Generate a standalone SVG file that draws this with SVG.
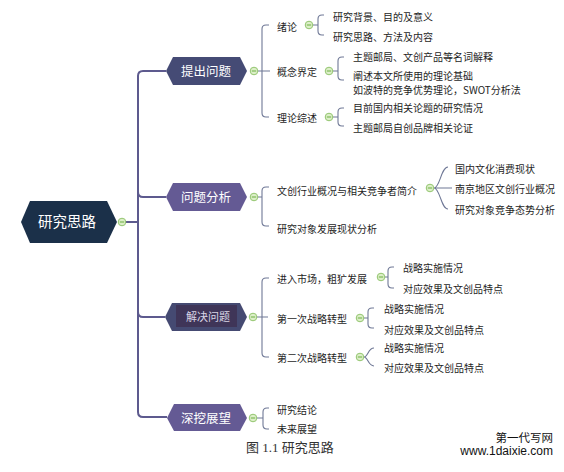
<svg xmlns="http://www.w3.org/2000/svg" width="564" height="472" viewBox="0 0 564 472">
<style>
.t{font-family:"Noto Sans CJK SC","Liberation Sans",sans-serif;font-size:10px;fill:#1e1e1e}
.nt{font-family:"Noto Sans CJK SC","Liberation Sans",sans-serif;fill:#ffffff;text-anchor:middle}
.trunk{fill:none;stroke:#5d5a8e;stroke-width:2}
.br{fill:none;stroke:#6f7896;stroke-width:1.1}
</style>
<defs>
<g id="tog"><circle cx="0" cy="0" r="3.8" fill="#dcefc8" stroke="#93c56f" stroke-width="1"/><line x1="-2.2" y1="0" x2="2.2" y2="0" stroke="#7db758" stroke-width="1.2"/></g>
</defs>
<rect width="564" height="472" fill="#ffffff"/>
<g id="connectors">
<path class="trunk" d="M125 222 H138"/>
<path class="trunk" d="M166 71 H143 Q138 71 138 76 V412 Q138 417 143 417 H167"/>
<path class="trunk" d="M138 192 Q138 197 143 197 H166"/>
<path class="trunk" d="M138 312 Q138 317 143 317 H165"/>
<path class="br" d="M258 71 H270 M269 25 H266 Q262 25 262 29 V113 Q262 117 266 117 H269"/>
<path class="br" d="M313 25 H318 M324 15 H322 Q318 15 318 19 V31 Q318 35 322 35 H324"/>
<path class="br" d="M333 71 H338 M344 57 H342 Q338 57 338 61 V76 Q338 80 342 80 H344"/>
<path class="br" d="M333 117 H338 M344 108 H342 Q338 108 338 112 V122 Q338 126 342 126 H344"/>
<path class="br" d="M258 197 H262 M269 187 H266 Q262 187 262 191 V222 Q262 226 266 226 H269"/>
<path class="br" d="M434 188 C440 188 441 167 448 167 M434 188 H452 M434 188 C440 188 441 209 448 209"/>
<path class="br" d="M257 317 H268 M269 278 H266 Q262 278 262 282 V353 Q262 357 266 357 H269"/>
<path class="br" d="M385 277 H388 M394 267 H392 Q388 267 388 271 V284 Q388 288 392 288 H394"/>
<path class="br" d="M364 318 H368 M374 308 H372 Q368 308 368 312 V324 Q368 328 372 328 H374"/>
<path class="br" d="M364 357 C368 357 368 348 374 348 M364 357 C368 357 368 366 374 366"/>
<path class="br" d="M257 418 H263 M269 408 H267 Q263 408 263 412 V425 Q263 429 267 429 H269"/>
</g>
<g id="root">
<polygon points="21,222 30,201 107,201 117,222 107,243 30,243" fill="#1b3049"/>
<text class="nt" x="67" y="227" font-size="14.5">研究思路</text>
<use href="#tog" x="122" y="222"/>
</g>
<g id="n-tichu">
<polygon points="166,71 173,57 240,57 247,71 240,85 173,85" fill="#454b75"/>
<text class="nt" x="206" y="76" font-size="12.5">提出问题</text>
<use href="#tog" x="254" y="71"/>
</g>
<g id="n-fenxi">
<polygon points="166,197 173,183 240,183 247,197 240,211 173,211" fill="#645a94"/>
<text class="nt" x="206" y="202" font-size="12.5">问题分析</text>
<use href="#tog" x="254" y="197"/>
</g>
<g id="n-jiejue">
<polygon points="165,317 172,303 240,303 247,317 240,331 172,331" fill="#454a72"/>
<rect x="176" y="305" width="61" height="22" fill="#3f3558"/>
<text class="nt" x="208" y="321" font-size="11" style="fill:#d8d4e4">解决问题</text>
<use href="#tog" x="253" y="317"/>
</g>
<g id="n-shenwa">
<polygon points="167,418 174,404 240,404 247,418 240,431 174,431" fill="#645a94"/>
<text class="nt" x="206" y="422.5" font-size="12.5">深挖展望</text>
<use href="#tog" x="253" y="418"/>
</g>
<g id="n-xulun">
<text class="t" x="277" y="31">绪论</text>
<use href="#tog" x="309" y="25"/>
</g>
<g id="n-xulun-1"><text class="t" x="333" y="21">研究背景、目的及意义</text></g>
<g id="n-xulun-2"><text class="t" x="333" y="41">研究思路、方法及内容</text></g>
<g id="n-gainian">
<text class="t" x="277" y="76">概念界定</text>
<use href="#tog" x="329" y="71"/>
</g>
<g id="n-gainian-1"><text class="t" x="353" y="61">主题邮局、文创产品等名词解释</text></g>
<g id="n-gainian-2"><text class="t" x="353" y="79.5"><tspan x="353" y="79.5">阐述本文所使用的理论基础</tspan><tspan x="353" y="94">如波特的竞争优势理论，SWOT分析法</tspan></text></g>
<g id="n-lilun">
<text class="t" x="277" y="122">理论综述</text>
<use href="#tog" x="329" y="117"/>
</g>
<g id="n-lilun-1"><text class="t" x="353" y="112">目前国内相关论题的研究情况</text></g>
<g id="n-lilun-2"><text class="t" x="353" y="132">主题邮局自创品牌相关论证</text></g>
<g id="n-wenchuang">
<text class="t" x="277" y="195">文创行业概况与相关竞争者简介</text>
<use href="#tog" x="430" y="188"/>
</g>
<g id="n-wc-1"><text class="t" x="455" y="173">国内文化消费现状</text></g>
<g id="n-wc-2"><text class="t" x="455" y="193">南京地区文创行业概况</text></g>
<g id="n-wc-3"><text class="t" x="455" y="214">研究对象竞争态势分析</text></g>
<g id="n-fazhan"><text class="t" x="277" y="233">研究对象发展现状分析</text></g>
<g id="n-jinru">
<text class="t" x="277" y="283">进入市场，粗犷发展</text>
<use href="#tog" x="381" y="277"/>
</g>
<g id="n-jinru-1"><text class="t" x="403" y="272">战略实施情况</text></g>
<g id="n-jinru-2"><text class="t" x="403" y="293">对应效果及文创品特点</text></g>
<g id="n-diyi">
<text class="t" x="277" y="323">第一次战略转型</text>
<use href="#tog" x="360" y="318"/>
</g>
<g id="n-diyi-1"><text class="t" x="384" y="313">战略实施情况</text></g>
<g id="n-diyi-2"><text class="t" x="384" y="334">对应效果及文创品特点</text></g>
<g id="n-dier">
<text class="t" x="277" y="362">第二次战略转型</text>
<use href="#tog" x="360" y="357"/>
</g>
<g id="n-dier-1"><text class="t" x="384" y="352">战略实施情况</text></g>
<g id="n-dier-2"><text class="t" x="384" y="372">对应效果及文创品特点</text></g>
<g id="n-jielun"><text class="t" x="277" y="414">研究结论</text></g>
<g id="n-zhanwang"><text class="t" x="277" y="433">未来展望</text></g>
<text x="290" y="452" text-anchor="middle" font-family="Liberation Serif, Noto Sans CJK SC, serif" font-size="13" fill="#333333">图 1.1 研究思路</text>
<text x="553" y="442" text-anchor="end" font-family="Noto Sans CJK SC, sans-serif" font-size="11.5" fill="#111111">第一代写网</text>
<text x="553" y="455" text-anchor="end" font-family="Liberation Sans, sans-serif" font-size="12" fill="#111111">www.1daixie.com</text>
</svg>
